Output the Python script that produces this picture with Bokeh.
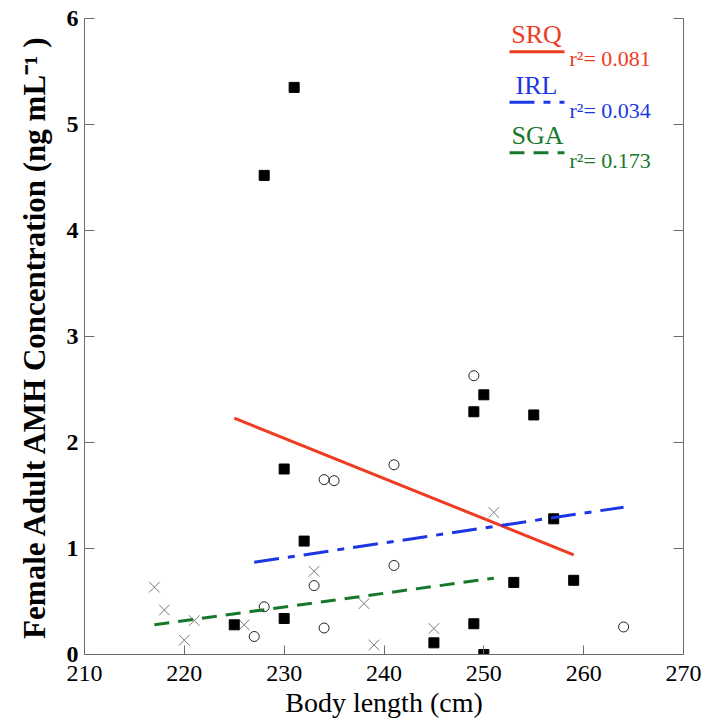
from bokeh.plotting import figure
from bokeh.models import LinearAxis, Range1d, Label, FixedTicker
from bokeh.embed import file_html
from bokeh.resources import INLINE

# ---- data ----
srq_x = [225, 228, 230, 230, 231, 232, 245, 249, 249, 250, 250, 253, 255, 257, 259]
srq_y = [0.28, 4.52, 0.34, 1.75, 5.35, 1.07, 0.11, 0.29, 2.29, 2.45, 0.0, 0.68, 2.26, 1.28, 0.70]

irl_x = [227, 228, 233, 234, 234, 235, 241, 241, 249, 264]
irl_y = [0.17, 0.45, 0.65, 0.25, 1.65, 1.64, 1.79, 0.84, 2.63, 0.26]

sga_x = [217, 218, 220, 221, 226, 233, 238, 239, 245, 251]
sga_y = [0.635, 0.42, 0.135, 0.32, 0.28, 0.785, 0.48, 0.09, 0.245, 1.34]

# fitted regression lines (end points)
srq_fit_x = [225, 259]
srq_fit_y = [2.23, 0.94]
irl_fit_x = [227, 264]
irl_fit_y = [0.87, 1.39]
sga_fit_x = [217, 251]
sga_fit_y = [0.28, 0.72]

groups = ["SRQ", "IRL", "SGA"]
r2_labels = ["r\u00b2= 0.081", "r\u00b2= 0.034", "r\u00b2= 0.173"]

x_ticks = [210, 220, 230, 240, 250, 260, 270]
y_ticks = [0, 1, 2, 3, 4, 5, 6]

RED = "#ee3b22"
BLUE = "#1c36e4"
GREEN = "#17782c"
AXC = "#6b6b6b"
FONT = "Liberation Serif"

p = figure(width=706, height=727, output_backend="svg", toolbar_location=None,
           x_range=Range1d(210, 270), y_range=Range1d(0, 6),
           min_border_left=84, min_border_right=23, min_border_top=18, min_border_bottom=73)
p.outline_line_color = None
p.xgrid.visible = False
p.ygrid.visible = False
p.background_fill_color = "white"

# bottom axis
xa = p.xaxis[0]
xa.ticker = FixedTicker(ticks=x_ticks)
xa.axis_label = "Body length (cm)"
xa.axis_label_text_font = FONT
xa.axis_label_text_font_style = "normal"
xa.axis_label_text_font_size = "28px"
xa.axis_label_text_color = "black"
xa.axis_label_standoff = 3
xa.major_label_text_font = FONT
xa.major_label_text_font_size = "24px"
xa.major_label_standoff = 11
xa.major_tick_in = 9
xa.major_tick_out = 0
xa.minor_tick_in = 0
xa.minor_tick_out = 0
xa.axis_line_color = AXC
xa.major_tick_line_color = AXC
xa.major_label_text_color = "black"

# left axis
ya = p.yaxis[0]
ya.ticker = FixedTicker(ticks=y_ticks)
ya.axis_label = "Female Adult AMH Concentration (ng mL\u207b\u00b9 )"
ya.axis_label_text_font = FONT
ya.axis_label_text_font_style = "bold"
ya.axis_label_text_font_size = "31px"
ya.axis_label_text_color = "black"
ya.axis_label_standoff = 12
ya.major_label_text_font = FONT
ya.major_label_text_font_style = "bold"
ya.major_label_text_font_size = "24px"
ya.major_label_standoff = 6
ya.major_tick_in = 10
ya.major_tick_out = 0
ya.minor_tick_in = 0
ya.minor_tick_out = 0
ya.axis_line_color = AXC
ya.major_tick_line_color = AXC
ya.major_label_text_color = "black"

# right axis (ticks only)
ra = LinearAxis(ticker=FixedTicker(ticks=y_ticks))
ra.major_label_overrides = {t: "" for t in y_ticks}
ra.major_label_standoff = 0
ra.major_tick_in = 10
ra.major_tick_out = 0
ra.minor_tick_in = 0
ra.minor_tick_out = 0
ra.axis_line_color = AXC
ra.major_tick_line_color = AXC
p.add_layout(ra, "right")

# points
p.scatter(sga_x, sga_y, marker="x", size=15, line_color="#7a7a7a", line_width=1)
p.scatter(irl_x, irl_y, marker="circle", size=10, fill_color="white", fill_alpha=0,
          line_color="#222222", line_width=1)
p.scatter(srq_x, srq_y, marker="square", size=10, fill_color="black", line_color="black")

# regression lines
p.line(srq_fit_x, srq_fit_y, line_color=RED, line_width=3)
p.line(irl_fit_x, irl_fit_y, line_color=BLUE, line_width=3, line_dash="25 9 7 9")
p.line(sga_fit_x, sga_fit_y, line_color=GREEN, line_width=3, line_dash="15 9")

# legend (custom)
colors = [RED, BLUE, GREEN]
dashes = ["solid", "25 9 7 9", "15 9"]
name_pos = [(252.74, 5.845), (253.17, 5.37), (252.77, 4.9)]
line_y = [5.687, 5.209, 4.733]
r2_pos = [(258.58, 5.62), (258.58, 5.135), (258.58, 4.66)]
for g, c, d, (nx, ny), ly, (rx, ry), r2 in zip(groups, colors, dashes, name_pos, line_y, r2_pos, r2_labels):
    p.add_layout(Label(x=nx, y=ny, text=g, text_font=FONT, text_font_size="26px",
                       text_color=c, text_baseline="alphabetic", text_align="left"))
    p.line([252.57, 258.08], [ly, ly], line_color=c, line_width=3, line_dash=d)
    p.add_layout(Label(x=rx, y=ry, text=r2, text_font=FONT, text_font_size="22px",
                       text_color=c, text_baseline="alphabetic", text_align="left"))

open("out.html", "w").write(file_html(p, INLINE))
